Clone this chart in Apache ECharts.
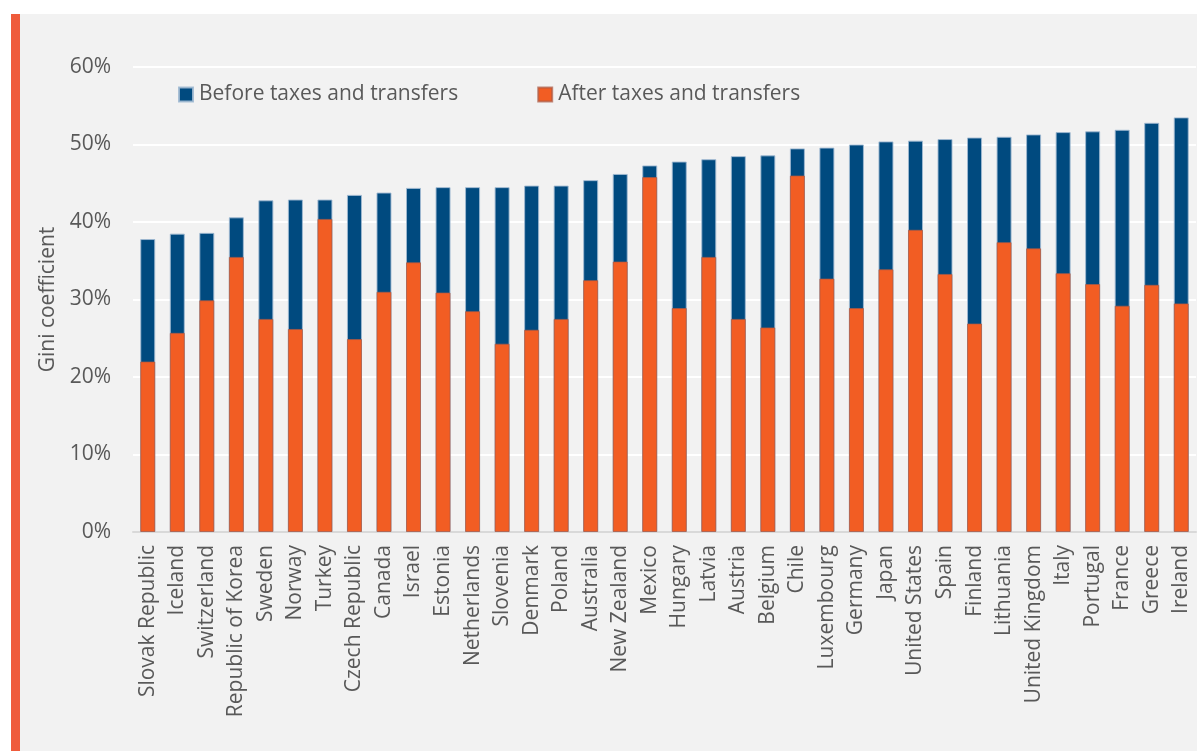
<!DOCTYPE html>
<html>
<head>
<meta charset="utf-8">
<title>Gini coefficient before and after taxes and transfers</title>
<script src="https://cdn.jsdelivr.net/npm/echarts@6/dist/echarts.min.js"></script>
<style>
  html, body { margin: 0; padding: 0; background: #ffffff; }
  #chart { width: 1200px; height: 751px; }
</style>
</head>
<body>
<div id="chart"></div>
<script>
// Countries, ordered by Gini coefficient before taxes and transfers
const countries = [
  'Slovak Republic', 'Iceland', 'Switzerland', 'Republic of Korea', 'Sweden', 'Norway',
  'Turkey', 'Czech Republic', 'Canada', 'Israel', 'Estonia', 'Netherlands',
  'Slovenia', 'Denmark', 'Poland', 'Australia', 'New Zealand', 'Mexico',
  'Hungary', 'Latvia', 'Austria', 'Belgium', 'Chile', 'Luxembourg',
  'Germany', 'Japan', 'United States', 'Spain', 'Finland', 'Lithuania',
  'United Kingdom', 'Italy', 'Portugal', 'France', 'Greece', 'Ireland'
];

// Gini coefficient (%) of market income, before taxes and transfers
const beforeTaxes = [
  37.8, 38.5, 38.6, 40.6, 42.8, 42.9,
  42.9, 43.5, 43.8, 44.4, 44.5, 44.5,
  44.5, 44.7, 44.7, 45.4, 46.2, 47.3,
  47.8, 48.1, 48.5, 48.6, 49.5, 49.6,
  50.0, 50.4, 50.5, 50.7, 50.9, 51.0,
  51.3, 51.6, 51.7, 51.9, 52.8, 53.5
];

// Gini coefficient (%) of disposable income, after taxes and transfers
const afterTaxes = [
  22.0, 25.7, 29.9, 35.5, 27.5, 26.2,
  40.4, 24.9, 31.0, 34.8, 30.9, 28.5,
  24.3, 26.1, 27.5, 32.5, 34.9, 45.8,
  28.9, 35.5, 27.5, 26.4, 46.0, 32.7,
  28.9, 33.9, 39.0, 33.3, 26.9, 37.4,
  36.6, 33.4, 32.0, 29.2, 31.9, 29.5
];

// Value-axis tick values (%)
const yTicks = [0, 10, 20, 30, 40, 50, 60];

const seriesNames = ['Before taxes and transfers', 'After taxes and transfers'];

const textColor = '#595959';
const fontFamily = '"Open Sans", "Noto Sans", sans-serif';

const chart = echarts.init(document.getElementById('chart'), null, { renderer: 'canvas' });

chart.setOption({
  backgroundColor: '#ffffff',
  animation: false,
  textStyle: { fontFamily: fontFamily },
  graphic: [
    // light grey panel behind the chart
    { type: 'rect', z: -10, shape: { x: 20, y: 14, width: 1177, height: 737 }, style: { fill: '#f2f2f2' } },
    // accent stripe on the left edge
    { type: 'rect', z: -10, shape: { x: 11, y: 14, width: 9, height: 737 }, style: { fill: '#ef5b3b' } }
  ],
  legend: {
    data: seriesNames,
    left: 178,
    top: 84,
    padding: 0,
    icon: 'rect',
    itemWidth: 14,
    itemHeight: 14,
    itemGap: 79,
    textStyle: { color: textColor, fontSize: 21, fontFamily: fontFamily, padding: [0, 0, 0, 1] }
  },
  grid: {
    left: 133,
    right: 4,
    top: 67,
    bottom: 219,
    containLabel: false
  },
  xAxis: {
    type: 'category',
    data: countries,
    axisLine: { show: true, lineStyle: { color: '#d9d9d9', width: 2 } },
    axisTick: { show: false },
    axisLabel: {
      rotate: 90,
      interval: 0,
      margin: 13,
      color: textColor,
      fontSize: 21,
      fontFamily: fontFamily
    }
  },
  yAxis: {
    type: 'value',
    min: yTicks[0],
    max: yTicks[yTicks.length - 1],
    interval: yTicks[1] - yTicks[0],
    name: 'Gini coefficient',
    nameLocation: 'middle',
    nameGap: 72,
    nameRotate: 90,
    nameTextStyle: { color: textColor, fontSize: 21, fontFamily: fontFamily },
    axisLine: { show: false },
    axisTick: { show: false },
    axisLabel: {
      color: textColor,
      fontSize: 21,
      margin: 22,
      fontFamily: fontFamily,
      formatter: '{value}%'
    },
    splitLine: { show: true, lineStyle: { color: '#ffffff', width: 2 } }
  },
  series: [
    {
      name: seriesNames[0],
      type: 'bar',
      data: beforeTaxes,
      barWidth: 15,
      barGap: '-100%',
      itemStyle: { color: '#004a7f', borderColor: 'rgba(160,185,210,0.9)', borderWidth: 1 },
      z: 2
    },
    {
      name: seriesNames[1],
      type: 'bar',
      data: afterTaxes,
      barWidth: 15,
      barGap: '-100%',
      itemStyle: { color: '#f25d23', borderColor: 'rgba(170,90,70,0.7)', borderWidth: 1 },
      z: 3
    }
  ]
});
</script>
</body>
</html>
